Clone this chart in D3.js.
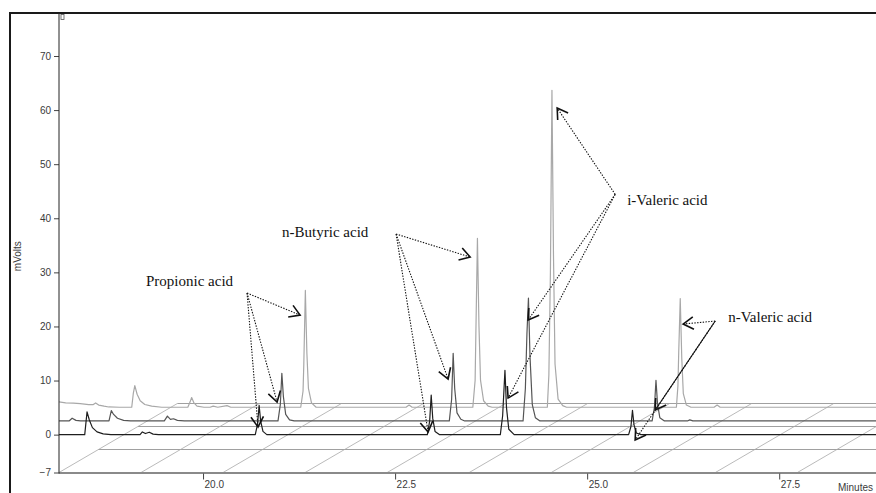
<!DOCTYPE html>
<html>
<head>
<meta charset="utf-8">
<script src="https://cdn.jsdelivr.net/npm/d3@7"></script>
<style>
  body { margin: 0; background: #fff; }
  svg { display: block; }
  .tick text { font-family: "Liberation Sans", Arial, sans-serif; font-size: 10px; fill: #3a3a3a; }
</style>
</head>
<body>
<script>
// three runs, [retention time (min), signal (mV)], front run first
const runFront = [
  [17.80, 0], [18.46, 0], [18.49, 4.2], [18.52, 2.7], [18.56, 1.3], [18.62, 0.5], [18.70, 0.15], [18.80, 0],
  [19.18, 0], [19.21, 0.5], [19.25, 0.2], [19.30, 0.45], [19.35, 0.1], [19.42, 0],
  [20.68, 0], [20.71, 2.0], [20.73, 5.4], [20.75, 2.5], [20.78, 0.6], [20.83, 0],
  [22.92, 0], [22.95, 2.5], [22.97, 7.3], [22.99, 3.0], [23.02, 0.6], [23.08, 0],
  [23.87, 0], [23.90, 3.5], [23.93, 11.9], [23.95, 5.0], [23.98, 1.0], [24.05, 0],
  [25.54, 0], [25.57, 1.5], [25.59, 4.5], [25.61, 1.8], [25.64, 0.3], [25.70, 0],
  [28.90, 0]
];
const runMiddle = [
  [17.80, 0], [17.95, 0], [17.99, 0.5], [18.04, 0.1], [18.10, 0],
  [18.47, 0], [18.50, 1.9], [18.53, 1.2], [18.58, 0.5], [18.66, 0.1], [18.75, 0],
  [19.19, 0], [19.23, 0.9], [19.27, 0.3], [19.31, 0.4], [19.36, 0.1], [19.45, 0],
  [20.67, 0], [20.70, 3.0], [20.72, 8.8], [20.74, 4.5], [20.77, 1.2], [20.82, 0.2], [20.88, 0],
  [22.90, 0], [22.93, 4.0], [22.95, 12.5], [22.97, 6.0], [23.00, 1.5], [23.05, 0.3], [23.10, 0],
  [23.86, 0], [23.89, 6.0], [23.91, 16.0], [23.93, 22.7], [23.95, 12.0], [23.98, 3.0], [24.02, 0.6], [24.08, 0],
  [25.54, 0], [25.57, 2.5], [25.59, 7.5], [25.61, 3.2], [25.64, 0.6], [25.70, 0],
  [26.00, 0], [26.03, 0.2], [26.07, 0],
  [28.90, 0]
];
const runBack = [
  [17.51, 1.0], [17.60, 0.8], [17.70, 0.75], [17.79, 0.65], [17.90, 0.5], [17.96, 0.5], [17.99, 0.8],
  [18.03, 0.4], [18.10, 0.2], [18.16, 0.05], [18.30, 0],
  [18.46, 0], [18.48, 2.5], [18.50, 4.0], [18.53, 2.4], [18.57, 1.2], [18.63, 0.5], [18.72, 0.2], [18.85, 0],
  [19.19, 0], [19.22, 1.0], [19.24, 1.8], [19.27, 0.8], [19.31, 0.2], [19.40, 0],
  [19.48, 0], [19.52, 0.2], [19.58, 0], [19.70, 0.3], [19.75, 0],
  [20.66, 0], [20.69, 3.0], [20.70, 8.0], [20.72, 21.6], [20.74, 10.0], [20.76, 3.5], [20.80, 0.8], [20.86, 0],
  [22.03, 0], [22.07, 0.4], [22.11, 0],
  [22.90, 0], [22.93, 5.0], [22.94, 14.0], [22.96, 31.2], [22.98, 15.0], [23.00, 5.0], [23.04, 1.2], [23.10, 0.2], [23.15, 0],
  [23.87, 0], [23.89, 6.0], [23.91, 25.0], [23.93, 58.6], [23.95, 28.0], [23.97, 8.0], [24.01, 1.5], [24.07, 0.3], [24.12, 0],
  [25.55, 0], [25.57, 4.0], [25.58, 10.0], [25.60, 20.1], [25.62, 9.0], [25.64, 2.5], [25.68, 0.4], [25.74, 0],
  [26.04, 0], [26.08, 0.4], [26.12, 0],
  [28.90, 0]
];
const runs = [runFront, runMiddle, runBack];
const runColors = ["#1e1e1e", "#555", "#a8a8a8"];

const yTicks = [70, 60, 50, 40, 30, 20, 10, 0, -7];
const xTicks = [20.0, 22.5, 25.0, 27.5];

// annotations, in chart units (min, mV)
const acidNames = ["Propionic acid", "n-Butyric acid", "i-Valeric acid", "n-Valeric acid"];
const labelAt = [[19.258, 27.47], [21.029, 36.53], [25.521, 42.44], [26.836, 20.82]];
const arrowFrom = [[20.573, 26.18], [22.513, 37.08], [25.365, 44.42], [26.667, 21.0]];
const arrowTo = [
  [[21.263, 22.1], [20.964, 6.03], [20.716, 1.41]],
  [[23.477, 32.83], [23.19, 10.28], [22.93, 0.48]],
  [[24.61, 60.38], [24.232, 21.19], [23.971, 6.77]],
  [[26.25, 20.45], [25.886, 4.55], [25.625, -1.0]]
];
const arrowSolid = [[false, false, false], [false, false, false], [false, false, false], [false, true, false]];

const width = 876, height = 493;
const left = 59, axisTop = 13;
const depthDx = 23.5, depthDy = 13.7;   // shift between runs
const floorRowDy = 23, floorRows = 3;
const floorStep = 1.068;                // min between floor diagonals

let x = d3.scaleLinear().domain([18.125, 28.76]).range([left, width]);
let y = d3.scaleLinear().domain([-7, 70]).range([472.5, 56]);

let svg = d3.select("body").append("svg")
  .attr("width", width)
  .attr("height", height);

svg.append("defs").append("clipPath").attr("id", "plot")
  .append("rect")
  .attr("x", left).attr("y", axisTop)
  .attr("width", width - left).attr("height", y(-7) - axisTop);

// outer frame
svg.append("path")
  .attr("d", `M10,${height}V${axisTop}H${width}`)
  .attr("fill", "none")
  .attr("stroke", "#1a1a1a")
  .attr("stroke-width", 2);

// floor grid
let floor = svg.append("g").attr("clip-path", "url(#plot)");
let floorY0 = y(-7);
let slope = depthDy / depthDx;
let floorDepth = floorRowDy * floorRows;
d3.range(1, floorRows + 1).forEach((k) => {
  floor.append("line")
    .attr("x1", left + k * floorRowDy / slope).attr("x2", width)
    .attr("y1", floorY0 - k * floorRowDy).attr("y2", floorY0 - k * floorRowDy)
    .attr("stroke", "#a0a0a0").attr("stroke-width", 1);
});
d3.range(0, 11).forEach((k) => {
  let x0 = x(x.domain()[0] + k * floorStep);
  floor.append("line")
    .attr("x1", x0).attr("y1", floorY0)
    .attr("x2", x0 + floorDepth / slope).attr("y2", floorY0 - floorDepth)
    .attr("stroke", "#a8a8a8").attr("stroke-width", 0.8);
});

// traces, back run first
let traces = svg.append("g").attr("clip-path", "url(#plot)");
[2, 1, 0].forEach((s) => {
  let line = d3.line()
    .x((d) => x(d[0]) + s * depthDx)
    .y((d) => y(d[1]) - s * depthDy);
  traces.append("path")
    .datum(runs[s])
    .attr("d", line)
    .attr("fill", "none")
    .attr("stroke", runColors[s])
    .attr("stroke-width", 1.2)
    .attr("stroke-linejoin", "round");
});

// x axis
svg.append("line")
  .attr("x1", left).attr("x2", width)
  .attr("y1", floorY0 + 0.5).attr("y2", floorY0 + 0.5)
  .attr("stroke", "#8a8a8a").attr("stroke-width", 2);
let xAxis = svg.append("g")
  .attr("transform", `translate(0,${floorY0 + 1})`)
  .call(d3.axisBottom(x).tickValues(xTicks).tickFormat(d3.format(".1f")).tickSize(6));
xAxis.select(".domain").remove();
xAxis.selectAll(".tick line").attr("stroke", "#444");
xAxis.selectAll(".tick text")
  .attr("text-anchor", "start")
  .attr("x", 1)
  .attr("y", 7)
  .attr("dy", "0.71em");

svg.append("text")
  .attr("x", 838).attr("y", 491)
  .style("font-family", "Liberation Sans, Arial, sans-serif")
  .style("font-size", "10px")
  .style("fill", "#3a3a3a")
  .text("Minutes");

// y axis
let yAxis = svg.append("g")
  .attr("transform", `translate(${left},0)`)
  .call(d3.axisLeft(y).tickValues(yTicks).tickSize(5).tickPadding(3));
yAxis.select(".domain").remove();
yAxis.selectAll(".tick line").attr("stroke", "#444");
svg.append("line")
  .attr("x1", left).attr("x2", left)
  .attr("y1", axisTop).attr("y2", floorY0 + 1)
  .attr("stroke", "#222").attr("stroke-width", 1);
svg.append("rect")
  .attr("x", left + 2).attr("y", axisTop + 1.5)
  .attr("width", 3).attr("height", 5)
  .attr("fill", "none").attr("stroke", "#555").attr("stroke-width", 0.8);

svg.append("text")
  .attr("transform", `translate(21,${y(33)}) rotate(-90)`)
  .attr("text-anchor", "middle")
  .style("font-family", "Liberation Sans, Arial, sans-serif")
  .style("font-size", "10px")
  .style("fill", "#3a3a3a")
  .text("mVolts");

// annotations
let notes = svg.append("g");
let arrowHead = (x1, y1, x2, y2) => {
  let a = Math.atan2(y1 - y2, x1 - x2);
  let len = 12, spread = 0.55;
  return `M${x2 + len * Math.cos(a - spread)},${y2 + len * Math.sin(a - spread)}` +
    `L${x2},${y2}L${x2 + len * Math.cos(a + spread)},${y2 + len * Math.sin(a + spread)}`;
};
acidNames.forEach((name, i) => {
  notes.append("text")
    .attr("x", x(labelAt[i][0]))
    .attr("y", y(labelAt[i][1]))
    .style("font-family", "Liberation Serif, 'Times New Roman', serif")
    .style("font-size", "15px")
    .style("fill", "#111")
    .text(name);
  let x1 = x(arrowFrom[i][0]), y1 = y(arrowFrom[i][1]);
  arrowTo[i].forEach((p, j) => {
    let x2 = x(p[0]), y2 = y(p[1]);
    notes.append("line")
      .attr("x1", x1).attr("y1", y1)
      .attr("x2", x2).attr("y2", y2)
      .attr("stroke", "#111")
      .attr("stroke-width", 1.1)
      .attr("stroke-dasharray", arrowSolid[i][j] ? null : "1.4,1.4");
    notes.append("path")
      .attr("d", arrowHead(x1, y1, x2, y2))
      .attr("fill", "none")
      .attr("stroke", "#111")
      .attr("stroke-width", 1.6);
  });
});
</script>
</body>
</html>
